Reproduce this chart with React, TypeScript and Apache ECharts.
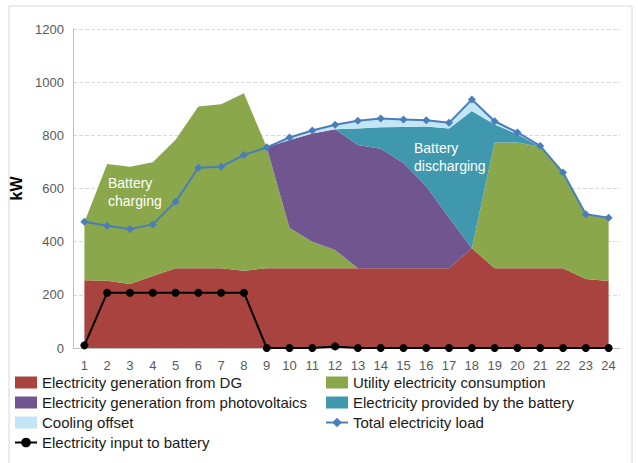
import React, { useEffect, useRef } from "react";
import * as echarts from "echarts";

const hours = ["1","2","3","4","5","6","7","8","9","10","11","12","13","14","15","16","17","18","19","20","21","22","23","24"];
const dgGen = [255, 253, 241, 271, 300, 300, 300, 291, 300, 300, 300, 300, 300, 300, 300, 300, 300, 375, 300, 300, 300, 300, 260, 252];
const utility = [218, 439, 441, 428, 483, 608, 617, 667, 455, 151, 100, 69, 0, 0, 0, 0, 0, 0, 473, 473, 457, 360, 243, 238];
const pv = [0, 0, 0, 0, 0, 0, 0, 0, 0, 331, 407, 454, 464, 450, 396, 308, 190, 0, 0, 0, 0, 0, 0, 0];
const battery = [0, 0, 0, 0, 0, 0, 0, 0, 0, 0, 0, 0, 62, 80, 135, 225, 336, 517, 68, 31, 0, 0, 0, 0];
const cooling = [0, 0, 0, 0, 0, 0, 0, 0, 0, 10, 10, 15, 28, 32, 29, 25, 20, 43, 13, 7, 3, 0, 0, 0];
const totalLoad = [475, 460, 448, 465, 550, 678, 682, 726, 755, 792, 818, 840, 855, 863, 860, 857, 847, 935, 853, 811, 760, 660, 503, 490];
const batteryInput = [10, 208, 208, 208, 208, 208, 208, 208, 0, 0, 0, 6, 0, 0, 0, 0, 0, 0, 0, 0, 0, 0, 0, 0];

const FONT = "Liberation Sans";

export default function App() {
  const ref = useRef<HTMLDivElement>(null);
  useEffect(() => {
    if (!ref.current) return;
    const chart = echarts.init(ref.current, null, { renderer: "svg" });
    const area = (name: string, data: number[], color: string) => ({
      name,
      type: "line",
      stack: "total",
      data,
      symbol: "none",
      showSymbol: false,
      lineStyle: { width: 0, color },
      itemStyle: { color },
      areaStyle: { color, opacity: 1 },
      z: 1,
    });
    const legendBase = {
      orient: "vertical",
      top: 375,
      padding: 0,
      itemWidth: 22,
      itemHeight: 12,
      itemGap: 5,
      textStyle: { fontSize: 15, color: "#1a1a1a", fontFamily: FONT, lineHeight: 15 },
    };
    chart.setOption({
      animation: false,
      textStyle: { fontFamily: FONT },
      grid: { left: 73, right: 18, top: 29, bottom: 115, containLabel: false },
      xAxis: {
        type: "category",
        data: hours,
        boundaryGap: true,
        axisTick: { show: false },
        axisLine: { lineStyle: { color: "#BFBFBF", width: 1 } },
        axisLabel: { color: "#595959", fontSize: 13, margin: 11, lineHeight: 13, fontFamily: FONT },
      },
      yAxis: {
        type: "value",
        min: 0,
        max: 1200,
        interval: 200,
        name: "kW",
        nameLocation: "middle",
        nameRotate: 90,
        nameGap: 38,
        nameTextStyle: { color: "#000", fontSize: 16, fontWeight: "bold", fontFamily: FONT },
        axisLine: { show: true, lineStyle: { color: "#BFBFBF" } },
        axisTick: { show: false },
        axisLabel: {
          color: "#595959",
          fontSize: 13,
          margin: 9,
          fontFamily: FONT,
          formatter: (v: number) => String(v),
        },
        splitLine: { lineStyle: { color: "#D9D9D9", type: "dashed" } },
      },
      legend: [
        {
          ...legendBase,
          left: 14,
          data: [
            { name: "Electricity generation from DG", icon: "rect" },
            { name: "Electricity generation from photovoltaics", icon: "rect" },
            { name: "Cooling offset", icon: "rect" },
            { name: "Electricity input to battery" },
          ],
        },
        {
          ...legendBase,
          left: 325,
          data: [
            { name: "Utility electricity consumption", icon: "rect" },
            { name: "Electricity provided by the battery", icon: "rect" },
            { name: "Total electricity load" },
          ],
        },
      ],
      graphic: [
        {
          type: "rect",
          shape: { x: 9, y: 6, width: 623, height: 470 },
          style: { fill: "none", stroke: "#D9D9D9", lineWidth: 1 },
          silent: true,
          z: -10,
        },
        {
          type: "text",
          left: 108,
          top: 174,
          style: { text: "Battery\ncharging", fill: "#fff", fontSize: 14, lineHeight: 18, fontFamily: FONT },
          z: 100,
        },
        {
          type: "text",
          left: 414,
          top: 139,
          style: { text: "Battery\ndischarging", fill: "#fff", fontSize: 14, lineHeight: 18, fontFamily: FONT },
          z: 100,
        },
      ],
      series: [
        area("Electricity generation from DG", dgGen, "#A8433F"),
        area("Utility electricity consumption", utility, "#8AA74C"),
        area("Electricity generation from photovoltaics", pv, "#705590"),
        area("Electricity provided by the battery", battery, "#3F98AE"),
        area("Cooling offset", cooling, "#C3E6F6"),
        {
          name: "Total electricity load",
          type: "line",
          data: totalLoad,
          symbol: "diamond",
          symbolSize: 8,
          lineStyle: { color: "#4A7EBB", width: 2 },
          itemStyle: { color: "#4A7EBB" },
          z: 5,
        },
        {
          name: "Electricity input to battery",
          type: "line",
          data: batteryInput,
          symbol: "circle",
          symbolSize: 8,
          lineStyle: { color: "#000", width: 2 },
          itemStyle: { color: "#000" },
          z: 6,
        },
      ],
    });
    return () => chart.dispose();
  }, []);
  return (
    <div
      ref={ref}
      style={{ position: "fixed", left: 0, top: 0, width: 638, height: 463, background: "#fff" }}
    />
  );
}
